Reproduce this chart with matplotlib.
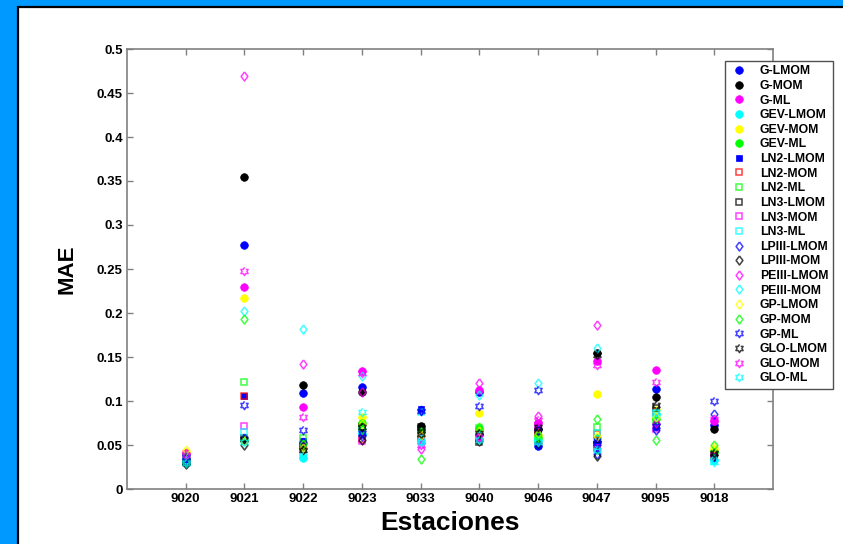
import numpy as np
import matplotlib.pyplot as plt
from matplotlib.patches import Rectangle
from matplotlib.path import Path

plt.rcParams['font.family'] = ['Liberation Sans', 'DejaVu Sans']
plt.rcParams['font.weight'] = 'bold'

# stations on the x axis
estaciones = ['9020', '9021', '9022', '9023', '9033', '9040', '9046', '9047', '9095', '9018']

# MAE per method, one value per station
g_lmom     = [0.034, 0.277, 0.109, 0.116, 0.068, 0.110, 0.049, 0.053, 0.114, 0.073]
g_mom      = [0.030, 0.355, 0.118, 0.110, 0.072, 0.063, 0.068, 0.155, 0.104, 0.068]
g_ml       = [0.040, 0.230, 0.093, 0.134, 0.065, 0.112, 0.075, 0.146, 0.135, 0.077]
gev_lmom   = [0.030, 0.054, 0.035, 0.063, 0.055, 0.057, 0.055, 0.045, 0.085, 0.033]
gev_mom    = [0.042, 0.217, 0.049, 0.082, 0.062, 0.086, 0.060, 0.108, 0.090, 0.046]
gev_ml     = [0.035, 0.056, 0.052, 0.075, 0.066, 0.068, 0.058, 0.058, 0.080, 0.042]
ln2_lmom   = [0.034, 0.106, 0.055, 0.065, 0.091, 0.060, 0.050, 0.055, 0.070, 0.035]
ln2_mom    = [0.036, 0.106, 0.050, 0.057, 0.060, 0.056, 0.065, 0.062, 0.088, 0.038]
ln2_ml     = [0.037, 0.122, 0.058, 0.072, 0.064, 0.069, 0.057, 0.070, 0.078, 0.040]
ln3_lmom   = [0.031, 0.058, 0.048, 0.070, 0.070, 0.053, 0.066, 0.050, 0.092, 0.036]
ln3_mom    = [0.040, 0.072, 0.046, 0.055, 0.058, 0.058, 0.072, 0.047, 0.068, 0.037]
ln3_ml     = [0.033, 0.065, 0.040, 0.066, 0.088, 0.061, 0.054, 0.064, 0.086, 0.032]
lpiii_lmom = [0.035, 0.058, 0.053, 0.060, 0.090, 0.062, 0.067, 0.040, 0.067, 0.085]
lpiii_mom  = [0.028, 0.050, 0.045, 0.056, 0.067, 0.055, 0.052, 0.038, 0.074, 0.039]
peiii_lmom = [0.041, 0.469, 0.142, 0.110, 0.045, 0.120, 0.083, 0.186, 0.075, 0.079]
peiii_mom  = [0.032, 0.202, 0.182, 0.128, 0.057, 0.107, 0.120, 0.160, 0.083, 0.034]
gp_lmom    = [0.044, 0.055, 0.047, 0.074, 0.061, 0.066, 0.062, 0.060, 0.082, 0.048]
gp_mom     = [0.038, 0.193, 0.051, 0.068, 0.034, 0.070, 0.061, 0.080, 0.056, 0.050]
gp_ml      = [0.036, 0.095, 0.067, 0.064, 0.089, 0.094, 0.113, 0.052, 0.072, 0.100]
glo_lmom   = [0.029, 0.057, 0.044, 0.071, 0.063, 0.064, 0.070, 0.152, 0.095, 0.041]
glo_mom    = [0.039, 0.248, 0.082, 0.132, 0.050, 0.059, 0.078, 0.141, 0.122, 0.080]
glo_ml     = [0.030, 0.053, 0.038, 0.088, 0.053, 0.056, 0.053, 0.044, 0.087, 0.031]

metodos = ['G-LMOM', 'G-MOM', 'G-ML', 'GEV-LMOM', 'GEV-MOM', 'GEV-ML',
           'LN2-LMOM', 'LN2-MOM', 'LN2-ML', 'LN3-LMOM', 'LN3-MOM', 'LN3-ML',
           'LPIII-LMOM', 'LPIII-MOM', 'PEIII-LMOM', 'PEIII-MOM',
           'GP-LMOM', 'GP-MOM', 'GP-ML', 'GLO-LMOM', 'GLO-MOM', 'GLO-ML']
valores = [g_lmom, g_mom, g_ml, gev_lmom, gev_mom, gev_ml,
           ln2_lmom, ln2_mom, ln2_ml, ln3_lmom, ln3_mom, ln3_ml,
           lpiii_lmom, lpiii_mom, peiii_lmom, peiii_mom,
           gp_lmom, gp_mom, gp_ml, glo_lmom, glo_mom, glo_ml]

# matlab-like marker shapes
ang = np.pi / 2 + np.arange(12) * np.pi / 6
rad = np.where(np.arange(12) % 2 == 0, 1.0, 0.58)
hexagram = Path(np.column_stack([rad * np.cos(ang), rad * np.sin(ang)]))
rombo = Path([(0, 1), (0.75, 0), (0, -1), (-0.75, 0), (0, 1)])

B, K, M, C, Y, G, R = '#0000ff', '#000000', '#ff00ff', '#00ffff', '#ffff00', '#00ff00', '#ff0000'

# (marker, colour, filled, size)
estilos = [('o', B, True, 5.5), ('o', K, True, 5.5), ('o', M, True, 5.5),
           ('o', C, True, 5.5), ('o', Y, True, 5.5), ('o', G, True, 5.5),
           ('s', B, True, 5), ('s', R, False, 5), ('s', G, False, 5),
           ('s', K, False, 5), ('s', M, False, 5), ('s', C, False, 5),
           (rombo, B, False, 6.5), (rombo, K, False, 6.5), (rombo, M, False, 6.5),
           (rombo, C, False, 6.5), (rombo, Y, False, 6.5), (rombo, G, False, 6.5),
           (hexagram, B, False, 6), (hexagram, K, False, 6),
           (hexagram, M, False, 6), (hexagram, C, False, 6)]

fig = plt.figure(figsize=(8.43, 5.44), dpi=100, facecolor='#0099ff')
fig.patches.append(Rectangle((18 / 843, -0.1), 1.2, 1.1 - 7 / 544,
                             transform=fig.transFigure, facecolor='white',
                             edgecolor='black', lw=1.6, zorder=-10))

ax = fig.add_axes([127 / 843, 1 - 489 / 544, 646 / 843, 440 / 544])
x = np.arange(1, len(estaciones) + 1)

for nombre, vals, (mk, col, lleno, ms) in zip(metodos, valores, estilos):
    if lleno:
        ax.plot(x, vals, ls='none', marker=mk, ms=ms, color=col,
                mfc=col, mec=col, mew=0.5, label=nombre)
    else:
        ax.plot(x, vals, ls='none', marker=mk, ms=ms, color=col,
                mfc='none', mec=col, mew=1.1, alpha=0.75, label=nombre)

ax.set_xlim(0, 11)
ax.set_ylim(0, 0.5)
ax.set_xticks(x)
ax.set_xticklabels(estaciones)
ax.set_yticks(np.arange(0, 0.501, 0.05))
ax.set_yticklabels(['0', '0.05', '0.1', '0.15', '0.2', '0.25', '0.3',
                    '0.35', '0.4', '0.45', '0.5'])
ax.tick_params(direction='in', length=4, width=1, color='#808080',
               top=True, right=True, labelsize=9.5, pad=3)
for sp in ax.spines.values():
    sp.set_color('#808080')
    sp.set_linewidth(1.2)

ax.set_xlabel('Estaciones', fontsize=19, fontweight='bold', labelpad=4)
ax.set_ylabel('MAE', fontsize=16, fontweight='bold', labelpad=14)

leg = ax.legend(loc='upper left', bbox_to_anchor=(725 / 843, 1 - 61 / 544),
                bbox_transform=fig.transFigure, fontsize=8.8, frameon=True,
                fancybox=False, framealpha=1, edgecolor='#505050',
                labelspacing=0.215, handletextpad=0.9, handlelength=1.6,
                borderpad=0.35, borderaxespad=0)
leg.get_frame().set_linewidth(1.0)
for t in leg.get_texts():
    t.set_fontweight('bold')

fig.savefig('out.png', dpi=100, facecolor=fig.get_facecolor())
